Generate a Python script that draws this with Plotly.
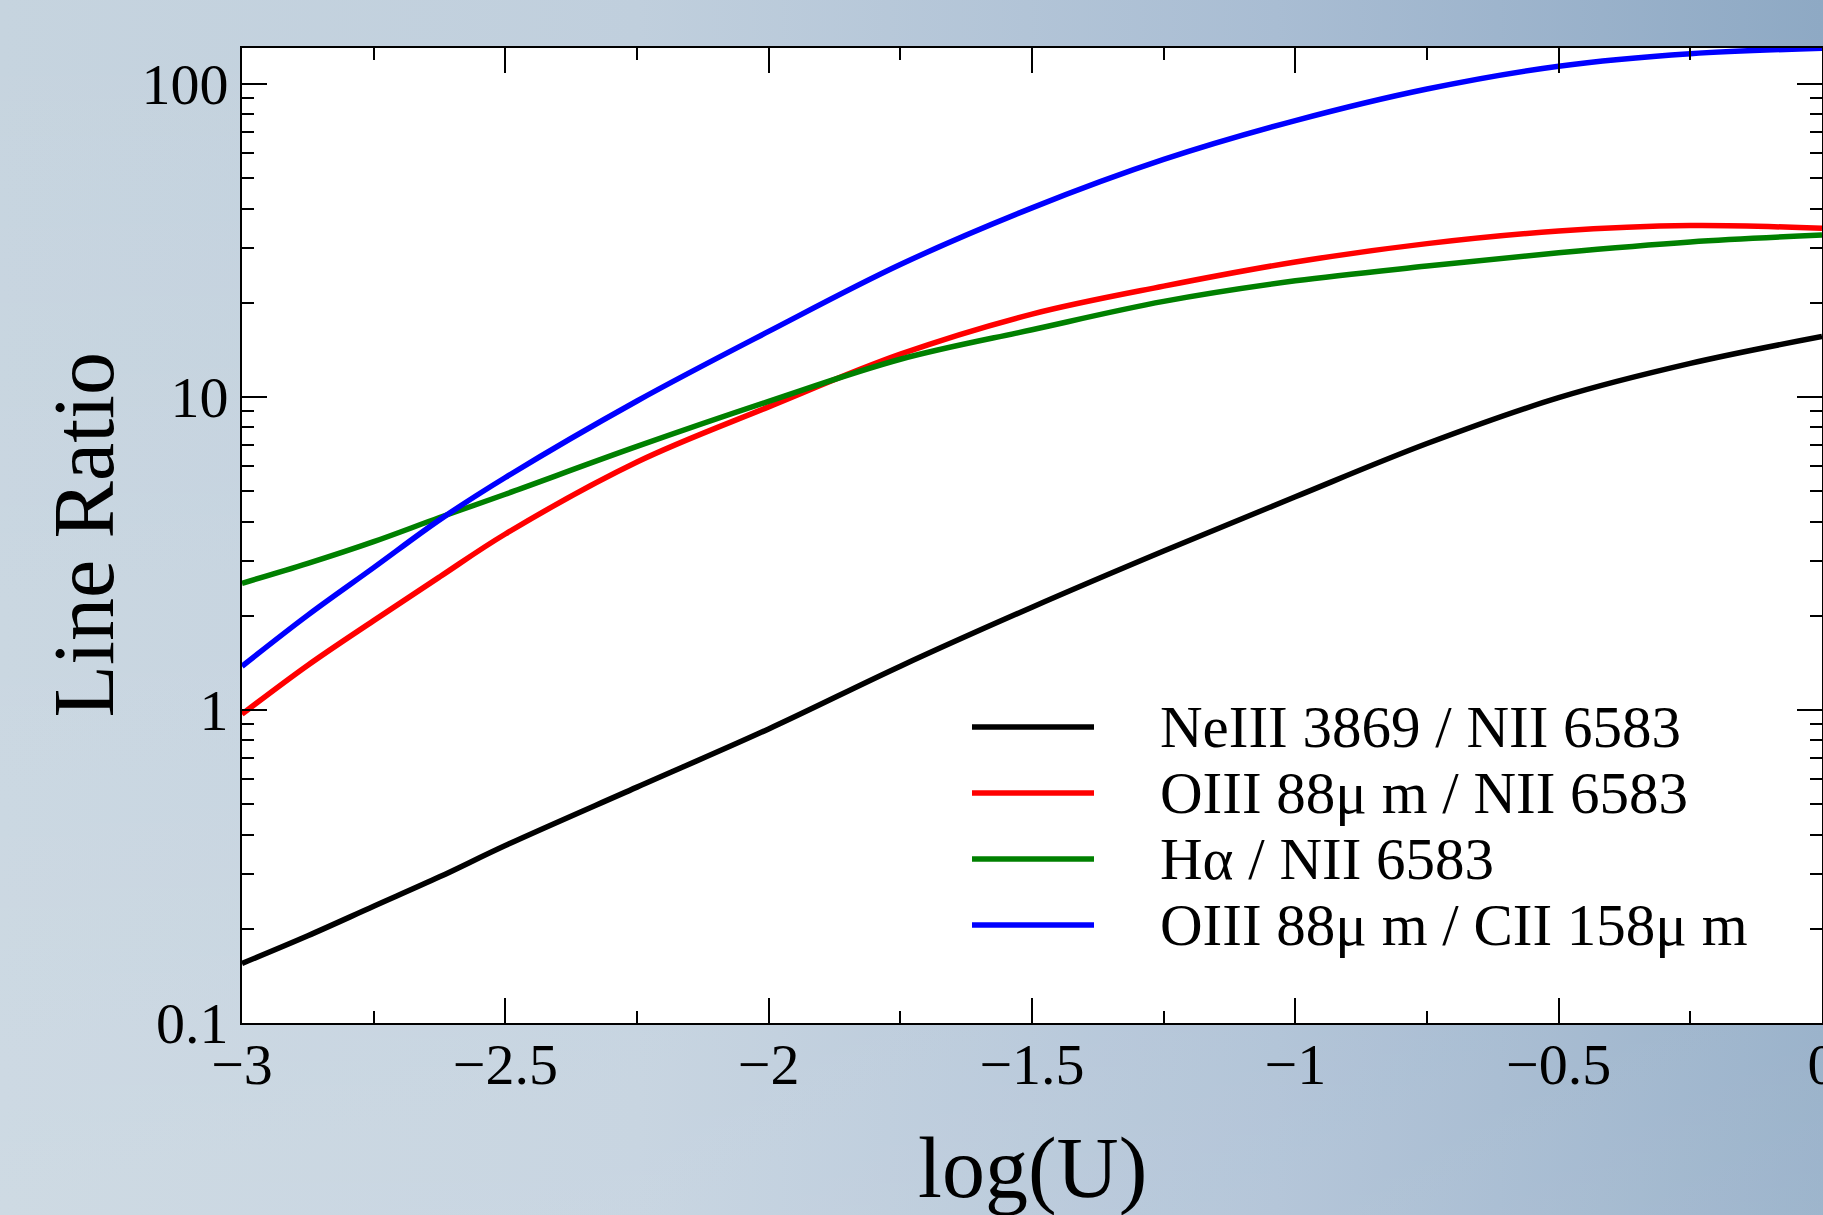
import base64
import plotly.graph_objects as go

# log(U) sampling grid
log_u = [-3.0, -2.875, -2.75, -2.625, -2.5, -2.25, -2.0, -1.75, -1.5,
         -1.25, -1.0, -0.75, -0.5, -0.25, 0.0]

# line ratios along the grid
neiii_nii = [0.155, 0.190, 0.236, 0.293, 0.369, 0.567, 0.87, 1.38, 2.13,
             3.22, 4.80, 7.10, 9.95, 12.8, 15.6]
oiii88_nii = [0.97, 1.39, 1.93, 2.66, 3.65, 6.20, 9.3, 13.7, 18.4,
              22.6, 27.0, 30.9, 33.9, 35.3, 34.6]
halpha_nii = [2.54, 2.94, 3.45, 4.12, 4.89, 6.95, 9.68, 13.2, 16.4,
              20.2, 23.5, 26.2, 28.9, 31.3, 32.9]
oiii88_cii = [1.38, 2.01, 2.85, 4.05, 5.53, 9.71, 16.2, 26.5, 40.2,
              57.4, 76.4, 96.4, 114.0, 125.0, 130.0]

series_names = ["NeIII 3869 / NII 6583", "OIII 88\u03bc m / NII 6583",
                "H\u03b1 / NII 6583", "OIII 88\u03bc m / CII 158\u03bc m"]
series_values = [neiii_nii, oiii88_nii, halpha_nii, oiii88_cii]
series_colors = ["#000000", "#ff0000", "#008000", "#0000ff"]

x_tick_vals = [-3, -2.5, -2, -1.5, -1, -0.5, 0]
x_tick_text = ["\u22123", "\u22122.5", "\u22122", "\u22121.5", "\u22121", "\u22120.5", "0"]
y_tick_vals = [0.1, 1, 10, 100]
y_tick_text = ["0.1", "1", "10", "100"]

W, H = 1823, 1215
ML, MR, MT, MB = 242, 1, 48, 192
PW, PH = W - ML - MR, H - MT - MB

FONT = "Liberation Serif, Times New Roman, serif"

fig = go.Figure()
for name, vals, col in zip(series_names, series_values, series_colors):
    fig.add_trace(go.Scatter(x=log_u, y=vals, mode="lines", name=name,
                             line=dict(color=col, width=5.5, shape="spline", smoothing=1.0),
                             showlegend=False))

# soft blue backdrop behind the whole figure
svg = f'''<svg xmlns="http://www.w3.org/2000/svg" width="{W}" height="{H}">
<defs>
<linearGradient id="h" x1="0" y1="0" x2="1" y2="0">
<stop offset="0" stop-color="#c6d4df"/>
<stop offset="0.35" stop-color="#c0cfdd"/>
<stop offset="0.7" stop-color="#a9bdd3"/>
<stop offset="1" stop-color="#8ea9c4"/>
</linearGradient>
<linearGradient id="v" x1="0" y1="0" x2="0" y2="1">
<stop offset="0" stop-color="#ffffff" stop-opacity="0"/>
<stop offset="1" stop-color="#ffffff" stop-opacity="0.14"/>
</linearGradient>
</defs>
<rect width="{W}" height="{H}" fill="url(#h)"/>
<rect width="{W}" height="{H}" fill="url(#v)"/>
</svg>'''
bg_uri = "data:image/svg+xml;base64," + base64.b64encode(svg.encode()).decode()

fig.add_layout_image(dict(source=bg_uri, xref="paper", yref="paper",
                          x=-ML / PW, y=1 + MT / PH, sizex=W / PW, sizey=H / PH,
                          xanchor="left", yanchor="top", sizing="stretch", layer="below"))
fig.add_shape(type="rect", xref="paper", yref="paper", x0=0, x1=1, y0=0, y1=1,
              fillcolor="white", line=dict(width=0), layer="below")

# hand-drawn legend: long line samples with labels to the right
leg_x0, leg_x1, leg_tx = (972 - ML) / PW, (1094 - ML) / PW, (1158 - ML) / PW
leg_rows = [727, 793, 859, 925]
for name, col, ry in zip(series_names, series_colors, leg_rows):
    yp = (H - MB - ry) / PH
    fig.add_shape(type="line", xref="paper", yref="paper", x0=leg_x0, x1=leg_x1,
                  y0=yp, y1=yp, line=dict(color=col, width=5.5))
    fig.add_annotation(text=name, xref="paper", yref="paper", x=leg_tx, y=yp,
                       xanchor="left", yanchor="middle", showarrow=False,
                       font=dict(family=FONT, size=59, color="black"))

fig.add_annotation(text="log(U)", xref="paper", yref="paper", x=0.5,
                   y=(H - MB - 1168) / PH, xanchor="center", yanchor="middle",
                   showarrow=False, font=dict(family=FONT, size=86, color="black"))
fig.add_annotation(text="Line Ratio", xref="paper", yref="paper", x=(83 - ML) / PW,
                   y=0.5, xanchor="center", yanchor="middle", textangle=-90,
                   showarrow=False, font=dict(family=FONT, size=86, color="black"))

axis_common = dict(showgrid=False, zeroline=False, showline=True, linecolor="black",
                   linewidth=2, mirror="allticks", ticks="inside", tickwidth=2,
                   ticklen=25, tickcolor="black",
                   tickfont=dict(family=FONT, size=58, color="black"))

fig.update_xaxes(range=[-3, 0], tickvals=x_tick_vals, ticktext=x_tick_text,
                 ticklabeloverflow="allow", ticklabelstandoff=-11,
                 minor=dict(ticks="inside", dtick=0.25, ticklen=12, tickwidth=2,
                            tickcolor="black", showgrid=False),
                 **axis_common)
fig.update_yaxes(type="log", range=[-1, 2.115], tickvals=y_tick_vals, ticktext=y_tick_text,
                 minor=dict(ticks="inside", dtick="D1", ticklen=12, tickwidth=2,
                            tickcolor="black", showgrid=False),
                 **axis_common)

fig.update_layout(width=W, height=H, template="none",
                  margin=dict(l=ML, r=MR, t=MT, b=MB, pad=0),
                  paper_bgcolor="#bccbd9", plot_bgcolor="white",
                  showlegend=False)

fig.write_html("out.html")
